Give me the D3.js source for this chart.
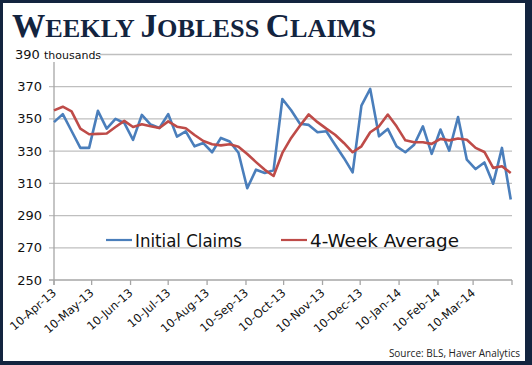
<!DOCTYPE html>
<html>
<head>
<meta charset="utf-8">
<script src="https://cdn.jsdelivr.net/npm/d3@7"></script>
<style>
  body { margin: 0; background: #fff; }
  svg { display: block; }
</style>
</head>
<body>
<svg width="532" height="365"></svg>
<script>
// weekly data, thousands, first week 10-Apr-13
const firstWeek = "2013-04-10";
const initialClaims = [
  348, 353, 342.5, 332, 332, 355, 344, 350, 347.5, 337, 352.5, 346.5, 344.4, 353,
  339, 342.3, 333, 335, 329.3, 338.2, 336, 329, 307, 318.5, 316.4, 318.2, 362.4,
  355.4, 347, 346.3, 341.7, 342.3, 334, 325.8, 316.8, 358.3, 368.6, 339.2, 343.8,
  333, 329.3, 334, 345.4, 328.3, 343.4, 330.3, 351.2, 324.7, 318.9, 323, 309.8, 332, 300
];
const fourWeekAvg = [
  355.3, 357.6, 354.7, 344, 340.5, 340.7, 341, 345, 348.8, 345, 346.7, 345.4, 344.4, 348.5,
  345.2, 344.2, 340, 336.3, 334.3, 333.6, 334.3, 332.8, 328.2, 323.2, 318.4, 314.6, 328.9,
  338.2, 345.8, 352.8, 348, 344, 340.2, 335.1, 329.3, 333, 341.7, 345.4, 352.7,
  345.4, 336.7, 335.5, 335.5, 334.5, 337.6, 336.7, 337.8, 337.1, 332, 329.5, 319.6, 320.6, 316.4
];
const yTicks = [250, 270, 290, 310, 330, 350, 370, 390];
const seriesNames = ["Initial Claims", "4-Week Average"];
const seriesColors = ["#4a7ebb", "#be4b48"];

const svg = d3.select("svg");
const width = +svg.attr("width");
const height = +svg.attr("height");
const navy = "#13243f";

const parse = d3.timeParse("%Y-%m-%d");
const start = parse(firstWeek);
const dates = initialClaims.map((d, i) => d3.timeDay.offset(start, 7 * i));

const xScale = d3.scaleTime()
  .domain([start, d3.timeYear.offset(start, 1)])
  .range([54, 512]);
const yScale = d3.scaleLinear().domain([250, 390]).range([280, 54.5]);

// frame
svg.append("rect").attr("width", width).attr("height", height).attr("fill", navy);
svg.append("rect").attr("x", 3).attr("y", 3)
  .attr("width", width - 10).attr("height", height - 7).attr("fill", "#fff");

// title in small caps
const title = svg.append("text")
  .attr("x", 12).attr("y", 37)
  .attr("font-family", "'Liberation Serif', 'DejaVu Serif', serif")
  .attr("font-weight", "bold")
  .attr("fill", navy);
[["W", 33], ["EEKLY ", 26], ["J", 33], ["OBLESS ", 26], ["C", 33], ["LAIMS", 26]]
  .forEach(([t, s]) => title.append("tspan").attr("font-size", s).text(t));
title.attr("textLength", 364).attr("lengthAdjust", "spacingAndGlyphs");

// grid
const grid = svg.append("g");
grid.selectAll("line").data(yTicks).join("line")
  .attr("x1", 49).attr("x2", 512)
  .attr("y1", d => yScale(d)).attr("y2", d => yScale(d))
  .attr("stroke", d => d === 250 ? "#a6a6a6" : "#bfbfbf")
  .attr("stroke-width", 1.3);

// y axis line
svg.append("line")
  .attr("x1", 54).attr("x2", 54)
  .attr("y1", yScale(390)).attr("y2", yScale(250) + 5)
  .attr("stroke", "#a6a6a6").attr("stroke-width", 1.3);

// x axis ticks and labels
const xTicks = d3.range(13).map(k => d3.timeMonth.offset(start, k));
const fmt = d3.timeFormat("%d-%b-%y");
svg.append("g").selectAll("line").data(xTicks).join("line")
  .attr("x1", d => xScale(d)).attr("x2", d => xScale(d))
  .attr("y1", 280).attr("y2", 285)
  .attr("stroke", "#a6a6a6").attr("stroke-width", 1.3);
svg.append("g").selectAll("text").data(xTicks.slice(0, 12)).join("text")
  .attr("transform", d => `translate(${xScale(d) + 3},${294}) rotate(-41)`)
  .attr("text-anchor", "end")
  .attr("font-family", "'DejaVu Sans', sans-serif")
  .attr("font-size", 11.5)
  .attr("fill", "#111")
  .text(d => fmt(d));

// y labels
svg.append("g").selectAll("text").data(yTicks.slice(0, -1)).join("text")
  .attr("x", 42).attr("y", d => yScale(d) + 4.5)
  .attr("text-anchor", "end")
  .attr("font-family", "'DejaVu Sans', sans-serif")
  .attr("font-size", 13)
  .attr("fill", "#111")
  .text(d => d);

// top label "390 thousands" covers the top grid line
svg.append("rect").attr("x", 14).attr("y", 46).attr("width", 86).attr("height", 16).attr("fill", "#fff");
const topLbl = svg.append("text")
  .attr("x", 15).attr("y", yScale(390) + 4)
  .attr("font-family", "'DejaVu Sans', sans-serif")
  .attr("fill", "#111");
topLbl.append("tspan").attr("font-size", 13).text("390 ");
topLbl.append("tspan").attr("font-size", 11).text("thousands");

// lines
const line = d3.line()
  .x((d, i) => xScale(dates[i]))
  .y(d => yScale(d));
[initialClaims, fourWeekAvg].forEach((s, k) => {
  svg.append("path")
    .datum(s)
    .attr("d", line)
    .attr("fill", "none")
    .attr("stroke", seriesColors[k])
    .attr("stroke-width", 2.6)
    .attr("stroke-linejoin", "round");
});

// legend
const legendX = [106, 281];
const legendLen = [107, 149];
seriesNames.forEach((name, k) => {
  svg.append("line")
    .attr("x1", legendX[k]).attr("x2", legendX[k] + 26)
    .attr("y1", 240).attr("y2", 240)
    .attr("stroke", seriesColors[k]).attr("stroke-width", 2.2);
  svg.append("text")
    .attr("x", legendX[k] + 29).attr("y", 247)
    .attr("font-family", "'DejaVu Sans', sans-serif")
    .attr("font-size", 17.5)
    .attr("fill", "#111")
    .attr("textLength", legendLen[k])
    .attr("lengthAdjust", "spacingAndGlyphs")
    .text(name);
});

// source
svg.append("text")
  .attr("x", 520).attr("y", 357)
  .attr("text-anchor", "end")
  .attr("font-family", "'Open Sans', sans-serif")
  .attr("font-size", 10)
  .attr("fill", "#222")
  .text("Source:  BLS, Haver Analytics");
</script>
</body>
</html>
